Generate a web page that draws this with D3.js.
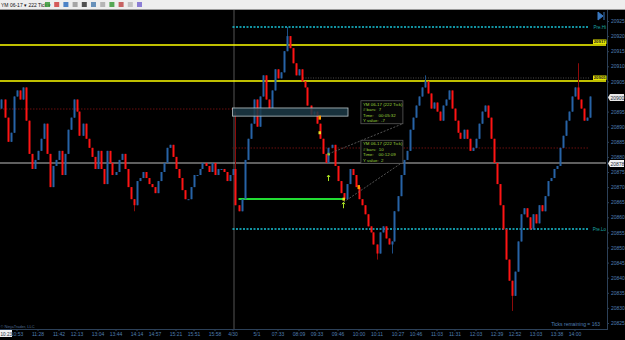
<!DOCTYPE html>
<html>
<head>
<meta charset="utf-8">
<script src="https://cdn.jsdelivr.net/npm/d3@7"></script>
<style>
    html, body { margin: 0; padding: 0; background: #000; }
    svg { display: block; font-family: "Liberation Sans", Arial, sans-serif; }
</style>
</head>
<body>
<div id="chart"></div>
<script>
// YM 06-17, 222 tick bars - close of each bar (open = previous close)
var firstOpen = 20896;
var closes = [
    20899, 20893, 20885, 20888, 20900, 20902, 20899, 20903, 20892, 20881,
    20876, 20879, 20882, 20886, 20891, 20881, 20870, 20877, 20879, 20882,
    20874, 20881, 20889, 20893, 20899, 20895, 20887, 20891, 20886, 20883,
    20880, 20876, 20882, 20876, 20871, 20882, 20878, 20874, 20875, 20879,
    20881, 20876, 20870, 20866, 20864, 20872, 20873, 20875, 20873, 20871,
    20870, 20868, 20872, 20875, 20878, 20883, 20884, 20880, 20876, 20873,
    20869, 20866, 20866, 20870, 20874, 20874, 20876, 20878, 20877, 20875,
    20878, 20874, 20876, 20876, 20875, 20872, 20874, 20876, 20864, 20862,
    20866, 20879, 20886, 20891, 20899, 20890, 20900, 20907, 20899, 20896,
    20902, 20909, 20906, 20908, 20915, 20920, 20916, 20911, 20907, 20909,
    20905, 20903, 20897, 20894, 20895, 20891, 20886, 20881, 20878, 20883,
    20884, 20877, 20872, 20868, 20866, 20871, 20876, 20874, 20870, 20866,
    20864, 20861, 20857, 20855, 20851, 20848, 20855, 20857, 20853, 20851,
    20852, 20862, 20867, 20874, 20879, 20882, 20889, 20893, 20897, 20900,
    20903, 20905, 20901, 20896, 20898, 20895, 20892, 20897, 20899, 20902,
    20896, 20892, 20888, 20886, 20889, 20886, 20882, 20883, 20886, 20891,
    20895, 20897, 20893, 20886, 20878, 20871, 20864, 20856, 20846, 20839,
    20834, 20842, 20852, 20861, 20863, 20860, 20856, 20861, 20858, 20864,
    20862, 20867, 20872, 20873, 20876, 20877, 20883, 20887, 20892, 20895,
    20900, 20903, 20899, 20896, 20892, 20893, 20900
];
// [bar, high, low] where the wick reaches past the body
var wicks = [
    [44, 20866, 20862], [78, 20895, 20864], [95, 20923, 20915], [125, 20851, 20846],
    [130, 20852, 20848], [141, 20907, 20903], [170, 20839, 20829], [192, 20911, 20899]
];

var priceTicks = [20825, 20830, 20835, 20840, 20845, 20850, 20855, 20860, 20865, 20870,
    20875, 20880, 20885, 20890, 20895, 20900, 20905, 20910, 20915, 20920, 20925];
var timeTickBars = [5, 12, 19, 25, 32, 38, 45, 51, 58, 64, 71, 77, 85, 92, 99, 105, 112,
    119, 125, 132, 138, 145, 151, 158, 165, 171, 178, 185, 191];
var timeLabels = ['10:53', '11:28', '11:42', '12:13', '13:04', '13:44', '14:14', '14:57',
    '15:21', '15:51', '15:58', '4/30', '5/1', '07:33', '08:09', '09:33', '09:46', '10:00',
    '10:11', '10:27', '10:46', '11:03', '11:31', '12:03', '12:39', '12:52', '13:03', '13:38', '14:00'];

// drawn levels: [kind, price, fromBar, toBar]
var levels = [
    ['preHigh', 20923, 77.5, 196.5],
    ['yellow', 20917, 0, 202],
    ['greyDot', 20906, 101, 196.5],
    ['yellow', 20905, 0, 202],
    ['redDot', 20896, 0, 77.5],
    ['redDot', 20883, 77.5, 196.5],
    ['white', 20878, 0, 202],
    ['preLow', 20856, 77.5, 196.5],
    ['green', 20866, 79.5, 114.5]
];
var zone = [77.5, 116, 20893.5, 20896.2];
var sessionBreak = 77.5;

// chart markers: [kind, bar, price]
var markers = [
    ['orange', 106, 20893], ['yellow', 106, 20888], ['tick', 109, 20881], ['arrow', 109, 20873],
    ['yellow', 114, 20866], ['arrow', 114, 20864], ['orange', 119, 20870]
];
// ruler lines [fromBar, fromPrice, toBar, toPrice] and their info boxes
var rulers = [[109, 20881, 133.8, 20891], [114, 20865, 133.8, 20878.3]];
var rulerBoxes = [
    {bar: 119.8, price: 20898.6, lines: ['YM 06-17 (222 Tick)', '# bars:  7', 'Time:    00:05:32', 'Y value:  -7']},
    {bar: 119.8, price: 20885.5, lines: ['YM 06-17 (222 Tick)', '# bars:  10', 'Time:    00:12:09', 'Y value:  2']}
];

var Chart = {
    width: 625,
    height: 340,
    plotRight: 607,
    plotTop: 10,
    plotBottom: 329,
    svg: '',
    x: '',
    y: '',
    draw: function () {
        this.defineCanvas()
            .defineScales();
        this.drawToolbar();
        this.drawSessionBreak();
        this.drawLevels();
        this.drawCandles();
        this.drawZone();
        this.drawMarkers();
        this.drawRulers();
        this.drawAxes();
        this.drawLabels();
    },
    defineCanvas: function () {
        this.svg = d3.select('#chart')
            .append('svg')
            .attr('width', this.width)
            .attr('height', this.height);
        this.svg.append('rect')
            .attr('width', this.width)
            .attr('height', this.height)
            .attr('fill', '#000');
        return this;
    },
    defineScales: function () {
        this.x = d3.scaleLinear()
            .domain([0, closes.length])
            .range([0, 591]);
        this.y = d3.scaleLinear()
            .domain([20825, 20925])
            .range([323, 21]);
        return this;
    },
    cx: function (bar) {
        return Chart.x(bar + 0.5);
    },
    drawToolbar: function () {
        var bar = this.svg.append('g');
        bar.append('rect')
            .attr('width', this.width)
            .attr('height', 9)
            .attr('fill', '#eeeeee');
        bar.append('line')
            .attr('x1', 0).attr('x2', this.width)
            .attr('y1', 9.5).attr('y2', 9.5)
            .attr('stroke', '#9a9a9a');
        bar.append('text')
            .attr('x', 1).attr('y', 6.5)
            .style('font-size', '5px')
            .attr('fill', '#111')
            .text('YM 06-17 \u25BE   222 Tick \u25BE');
        var icons = ['#3a9a3a', '#d04040', '#3070c0', '#999', '#333', '#5080b0', '#aaa', '#3a9a3a', '#c04a4a', '#bbb', '#7a6ad0'];
        bar.selectAll('.icon')
            .data(icons)
            .enter()
            .append('rect')
            .attr('class', 'icon')
            .attr('x', function (d, i) { return 45 + i * 9.2; })
            .attr('y', 2)
            .attr('width', 5)
            .attr('height', 5)
            .attr('fill', function (d) { return d; })
            .style('opacity', 0.85);
        // jump-to-end button
        this.svg.append('path')
            .attr('d', 'M598,12 L598,20 L603,16 Z M604,12 L604,20')
            .attr('fill', '#3a78c0')
            .attr('stroke', '#3a78c0')
            .attr('stroke-width', 1);
    },
    drawSessionBreak: function () {
        this.svg.append('line')
            .attr('x1', this.x(sessionBreak + 0.5)).attr('x2', this.x(sessionBreak + 0.5))
            .attr('y1', this.plotTop).attr('y2', this.plotBottom)
            .attr('stroke', '#555')
            .attr('stroke-width', 1);
    },
    levelStyle: {
        preHigh: {stroke: '#18c4d8', dash: '2,1.5', width: 1.6},
        preLow: {stroke: '#18c4d8', dash: '2,1.5', width: 1.6},
        yellow: {stroke: '#ffff00', dash: 'none', width: 1.6},
        greyDot: {stroke: '#4a4a4a', dash: '1,1.5', width: 1},
        redDot: {stroke: '#6a0f0f', dash: '1.5,1.5', width: 1},
        white: {stroke: '#bdbdbd', dash: 'none', width: 1.2},
        green: {stroke: '#22dd33', dash: 'none', width: 2}
    },
    drawLevels: function () {
        var self = this;
        this.svg.selectAll('.level')
            .data(levels)
            .enter()
            .append('line')
            .attr('class', 'level')
            .attr('x1', function (d) { return self.x(d[2]); })
            .attr('x2', function (d) { return Math.min(self.x(d[3]), self.plotRight); })
            .attr('y1', function (d) { return Math.round(self.y(d[1])); })
            .attr('y2', function (d) { return Math.round(self.y(d[1])); })
            .style('stroke', function (d) { return self.levelStyle[d[0]].stroke; })
            .style('stroke-width', function (d) { return self.levelStyle[d[0]].width; })
            .style('stroke-dasharray', function (d) { return self.levelStyle[d[0]].dash; });
    },
    drawCandles: function () {
        var self = this;
        var bars = closes.map(function (c, i) {
            var o = (i === 0) ? firstOpen : closes[i - 1];
            return {i: i, open: o, close: c, high: Math.max(o, c), low: Math.min(o, c)};
        });
        wicks.forEach(function (w) {
            bars[w[0]].high = w[1];
            bars[w[0]].low = w[2];
        });
        var g = this.svg.append('g');
        g.selectAll('.wick')
            .data(bars)
            .enter()
            .append('line')
            .attr('class', 'wick')
            .attr('x1', function (d) { return Math.round(self.cx(d.i)) + 0.5; })
            .attr('x2', function (d) { return Math.round(self.cx(d.i)) + 0.5; })
            .attr('y1', function (d) { return self.y(d.high); })
            .attr('y2', function (d) { return self.y(d.low); })
            .attr('stroke', function (d) { return d.close >= d.open ? '#1d4f86' : '#8e0a0a'; })
            .attr('stroke-width', 1);
        g.selectAll('.body')
            .data(bars)
            .enter()
            .append('rect')
            .attr('class', 'body')
            .attr('x', function (d) { return Math.round(self.cx(d.i)) - 0.5; })
            .attr('width', 2)
            .attr('y', function (d) { return self.y(Math.max(d.open, d.close)); })
            .attr('height', function (d) { return Math.max(1, Math.abs(self.y(d.open) - self.y(d.close))); })
            .attr('fill', function (d) { return d.close >= d.open ? '#2763a6' : '#ff1414'; });
    },
    drawZone: function () {
        this.svg.append('rect')
            .attr('x', this.x(zone[0]))
            .attr('y', this.y(zone[3]))
            .attr('width', this.x(zone[1]) - this.x(zone[0]))
            .attr('height', this.y(zone[2]) - this.y(zone[3]))
            .attr('fill', '#1c3946')
            .style('fill-opacity', 0.85)
            .attr('stroke', '#b8c4c8')
            .attr('stroke-width', 0.8);
    },
    drawMarkers: function () {
        var self = this;
        var g = this.svg.append('g');
        markers.forEach(function (m) {
            var px = self.cx(m[1]);
            var py = self.y(m[2]);
            if (m[0] === 'orange') {
                g.append('rect').attr('x', px - 1).attr('y', py - 2).attr('width', 2.5).attr('height', 4).attr('fill', '#ff9a00');
            } else if (m[0] === 'yellow') {
                g.append('rect').attr('x', px - 1).attr('y', py - 1.5).attr('width', 2.5).attr('height', 3).attr('fill', '#e8e020');
            } else if (m[0] === 'tick') {
                g.append('rect').attr('x', px - 1).attr('y', py - 1).attr('width', 2.5).attr('height', 2.5).attr('fill', '#9bd22a');
            } else {
                g.append('path')
                    .attr('d', 'M' + px + ',' + (py - 3) + ' L' + px + ',' + (py + 3) + ' M' + (px - 1.5) + ',' + (py - 1) + ' L' + px + ',' + (py - 3) + ' L' + (px + 1.5) + ',' + (py - 1))
                    .attr('stroke', '#a8e020')
                    .attr('stroke-width', 1)
                    .attr('fill', 'none');
            }
        });
    },
    drawRulers: function () {
        var self = this;
        this.svg.selectAll('.ruler')
            .data(rulers)
            .enter()
            .append('line')
            .attr('class', 'ruler')
            .attr('x1', function (d) { return self.cx(d[0]); })
            .attr('y1', function (d) { return self.y(d[1]); })
            .attr('x2', function (d) { return self.cx(d[2]); })
            .attr('y2', function (d) { return self.y(d[3]); })
            .attr('stroke', '#6a6a6a')
            .attr('stroke-width', 0.8)
            .attr('stroke-dasharray', '2,1.5');

        var boxes = this.svg.selectAll('.rbox')
            .data(rulerBoxes)
            .enter()
            .append('g')
            .attr('class', 'rbox')
            .attr('transform', function (d) { return 'translate(' + self.cx(d.bar) + ',' + self.y(d.price) + ')'; });
        boxes.append('rect')
            .attr('width', 42)
            .attr('height', 23)
            .attr('fill', '#060606')
            .attr('stroke', '#5a5a5a')
            .attr('stroke-width', 0.8);
        boxes.selectAll('text')
            .data(function (d) { return d.lines; })
            .enter()
            .append('text')
            .attr('x', 2)
            .attr('y', function (d, i) { return 5.2 + i * 5.4; })
            .attr('fill', '#9ad43a')
            .style('font-size', '4.4px')
            .style('white-space', 'pre')
            .attr('xml:space', 'preserve')
            .text(function (d) { return d; });
    },
    drawAxes: function () {
        var yAxis = d3.axisRight(this.y)
            .tickValues(priceTicks)
            .tickSize(2)
            .tickPadding(2)
            .tickFormat(d3.format('d'));
        var ya = this.svg.append('g')
            .attr('transform', 'translate(' + this.plotRight + ',0)')
            .call(yAxis);
        ya.select('.domain').attr('d', 'M0.5,' + this.plotTop + 'V' + this.plotBottom).attr('stroke', '#2c4058');
        ya.selectAll('.tick line').attr('stroke', '#2c4058');
        ya.selectAll('.tick text')
            .attr('fill', '#4f7fb3')
            .style('font-size', '5px')
            .style('font-family', '"Liberation Sans", Arial, sans-serif');

        var xAxis = d3.axisBottom(this.x)
            .tickValues(timeTickBars.map(function (b) { return b + 0.5; }))
            .tickSize(2)
            .tickPadding(1)
            .tickFormat(function (d, i) { return timeLabels[i]; });
        var xa = this.svg.append('g')
            .attr('transform', 'translate(0,' + this.plotBottom + ')')
            .call(xAxis);
        xa.select('.domain').attr('d', 'M0,0.5H' + (this.plotRight + 1)).attr('stroke', '#2c4058');
        xa.selectAll('.tick line').attr('stroke', '#2c4058');
        xa.selectAll('.tick text')
            .attr('fill', '#4f7fb3')
            .style('font-size', '5px')
            .style('font-family', '"Liberation Sans", Arial, sans-serif');
    },
    tag: function (price, text, fill, textFill) {
        var py = Math.round(this.y(price)) + 0.5;
        var g = this.svg.append('g');
        g.append('path')
            .attr('d', 'M' + (this.plotRight + 1) + ',' + py + ' l2,-3.5 h14 v7 h-14 Z')
            .attr('fill', fill);
        g.append('text')
            .attr('x', this.plotRight + 3.5)
            .attr('y', py + 2)
            .attr('fill', textFill)
            .style('font-size', '5px')
            .text(text);
    },
    drawLabels: function () {
        var self = this;
        // level tags inside the plot
        [20917, 20905].forEach(function (p) {
            var py = Math.round(self.y(p));
            self.svg.append('rect')
                .attr('x', 593).attr('y', py - 5.5)
                .attr('width', 13.5).attr('height', 4.5)
                .attr('fill', '#e6e600');
            self.svg.append('text')
                .attr('x', 599.7).attr('y', py - 1.7)
                .attr('text-anchor', 'middle')
                .attr('fill', '#222')
                .style('font-size', '4.3px')
                .style('font-weight', 'bold')
                .text(p);
        });
        [['Pre.Hi', 20923], ['Pre.Lo', 20856]].forEach(function (d) {
            self.svg.append('text')
                .attr('x', 606).attr('y', self.y(d[1]) + 1.5)
                .attr('text-anchor', 'end')
                .attr('fill', '#1aa6a6')
                .style('font-size', '4.5px')
                .text(d[0]);
        });
        this.tag(20878, '20878', '#f2f2f2', '#1a2a3a');
        this.tag(closes[closes.length - 1], String(closes[closes.length - 1]), '#e8e8e8', '#1a2a3a');

        // current time tag on the time axis
        this.svg.append('rect')
            .attr('x', 0).attr('y', 330)
            .attr('width', 12).attr('height', 7)
            .attr('fill', '#f2f2f2');
        this.svg.append('text')
            .attr('x', 0.5).attr('y', 335.5)
            .attr('fill', '#1a2a3a')
            .style('font-size', '4.6px')
            .text('10:23');

        this.svg.append('text')
            .attr('x', 600).attr('y', 326)
            .attr('text-anchor', 'end')
            .attr('fill', '#4f7fb3')
            .style('font-size', '5px')
            .text('Ticks remaining = 163');
        this.svg.append('text')
            .attr('x', 0.5).attr('y', 327.5)
            .attr('fill', '#4f6f93')
            .style('font-size', '4px')
            .text('\u00A9 NinjaTrader, LLC');
    }
};

Chart.draw();
</script>
</body>
</html>
